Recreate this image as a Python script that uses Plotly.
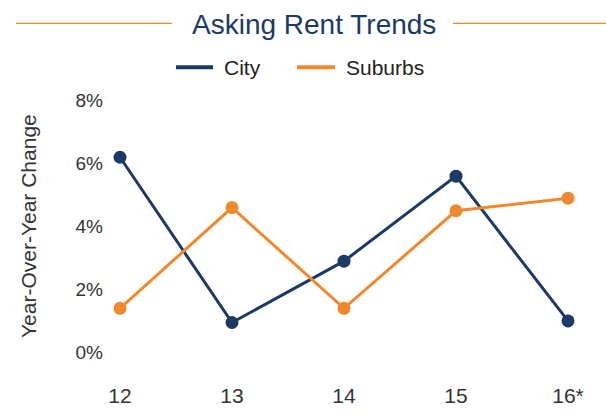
import plotly.graph_objects as go

years = ["12", "13", "14", "15", "16*"]
city = [6.2, 0.95, 2.9, 5.6, 1.0]
suburbs = [1.4, 4.6, 1.4, 4.5, 4.9]
y_ticks = [0, 2, 4, 6, 8]
y_labels = ["0%", "2%", "4%", "6%", "8%"]

NAVY = "#1b3a66"
ORANGE = "#f0892e"
TEXT = "#333333"
W, H = 606, 417
ML, MR, MT, MB = 108, 10, 88, 50


def px_x(p):
    return (p - ML) / (W - ML - MR)


def px_y(p):
    return 1 - (p - MT) / (H - MT - MB)


fig = go.Figure()
xs = list(range(len(years)))
for name, vals, col in [("City", city, NAVY), ("Suburbs", suburbs, ORANGE)]:
    fig.add_trace(go.Scatter(x=xs, y=vals, mode="lines+markers", name=name,
                             line=dict(color=col, width=3),
                             marker=dict(color=col, size=13),
                             showlegend=False))

# legend drawn as line swatches + labels
legend_items = [("City", NAVY, 176, 213, 222), ("Suburbs", ORANGE, 297, 335, 344)]
shapes = [
    dict(type="line", xref="paper", yref="paper", x0=px_x(16), x1=px_x(172),
         y0=px_y(23), y1=px_y(23), line=dict(color=ORANGE, width=1.2)),
    dict(type="line", xref="paper", yref="paper", x0=px_x(453), x1=px_x(606),
         y0=px_y(23), y1=px_y(23), line=dict(color=ORANGE, width=1.2)),
]
annotations = [
    dict(text="Asking Rent Trends", x=px_x(314), y=px_y(24), xref="paper", yref="paper",
         showarrow=False, font=dict(size=28, color=NAVY),
         xanchor="center", yanchor="middle"),
    dict(text="Year-Over-Year Change", x=px_x(28), y=px_y(227), xref="paper", yref="paper",
         showarrow=False, textangle=-90, font=dict(size=21, color=TEXT),
         xanchor="center", yanchor="middle"),
]
for label, col, x0, x1, tx in legend_items:
    shapes.append(dict(type="line", xref="paper", yref="paper", x0=px_x(x0), x1=px_x(x1),
                       y0=px_y(67), y1=px_y(67), line=dict(color=col, width=4)))
    annotations.append(dict(text=label, x=px_x(tx), y=px_y(67), xref="paper", yref="paper",
                            showarrow=False, font=dict(size=21, color="#222222"),
                            xanchor="left", yanchor="middle"))

fig.update_layout(
    width=W, height=H,
    margin=dict(l=ML, r=MR, t=MT, b=MB),
    paper_bgcolor="white", plot_bgcolor="white",
    font=dict(family="Liberation Sans, Arial, sans-serif", color=TEXT),
    showlegend=False,
    xaxis=dict(tickvals=xs, ticktext=years, range=[-(120 - ML) / 112, (W - MR - 120) / 112],
               showgrid=False, zeroline=False, showline=False, ticks="",
               tickfont=dict(size=21, color=TEXT), ticklabelstandoff=16),
    yaxis=dict(tickvals=y_ticks, ticktext=y_labels, range=[-0.4, 8.4],
               showgrid=False, zeroline=False, showline=False, ticks="",
               tickfont=dict(size=19, color=TEXT), ticklabelstandoff=4),
    annotations=annotations,
    shapes=shapes,
)

fig.write_html("out.html")
